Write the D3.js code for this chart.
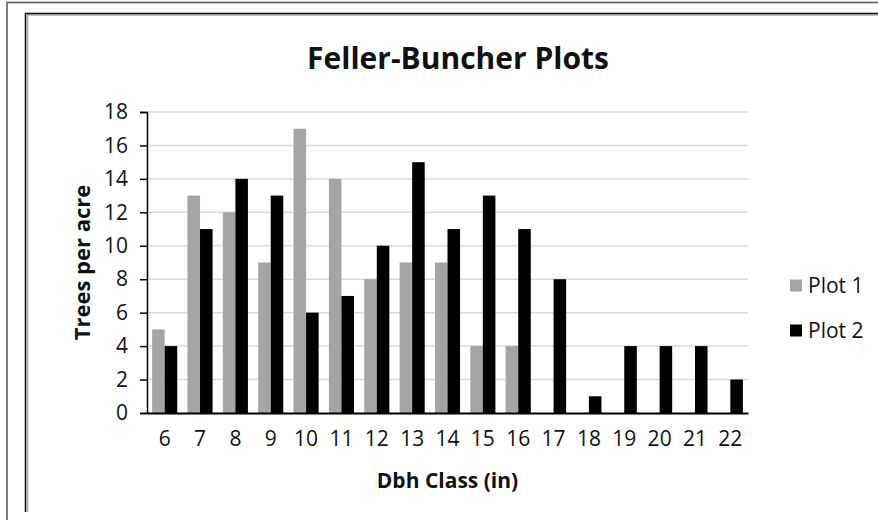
<!DOCTYPE html>
<html>
<head>
<meta charset="utf-8">
<script src="https://cdn.jsdelivr.net/npm/d3@7"></script>
<style>
  body { margin: 0; background: #fff; }
  svg text { font-family: "Open Sans", sans-serif; fill: #111; }
  .grid line { stroke: #d9d9d9; stroke-width: 1.5; }
</style>
</head>
<body>
<div id="chart"></div>
<script>
var categories = ["6", "7", "8", "9", "10", "11", "12", "13", "14", "15", "16", "17", "18", "19", "20", "21", "22"]
var series_names = ["Plot 1", "Plot 2"]
var plot1_values = [5, 13, 12, 9, 17, 14, 8, 9, 9, 4, 4, 0, 0, 0, 0, 0, 0]
var plot2_values = [4, 11, 14, 13, 6, 7, 10, 15, 11, 13, 11, 8, 1, 4, 4, 4, 2]
var y_ticks = [0, 2, 4, 6, 8, 10, 12, 14, 16, 18]
var series_colors = ["#a5a5a5", "#000000"]

var width = 878, height = 520
var plot = { "left": 147, "right": 748, "top": 112, "bottom": 413 }

var svg = d3.select("#chart").append("svg")
  .attr("width", width)
  .attr("height", height)

// frames (outer page border + chart border with a little shadow)
svg.append("path")
  .attr("d", "M7,520V2.5H878")
  .attr("fill", "none").attr("stroke", "#555").attr("stroke-width", 1.5)
svg.append("path")
  .attr("d", "M27.5,512V15H878")
  .attr("fill", "none").attr("stroke", "#aaa").attr("stroke-width", 1.5)
svg.append("path")
  .attr("d", "M25.5,512V13.5H878")
  .attr("fill", "none").attr("stroke", "#111").attr("stroke-width", 1.5)

var x0 = d3.scaleBand()
  .domain(categories)
  .range([plot.left, plot.right])
  .paddingInner(0.29)
  .paddingOuter(0.145)

var x1 = d3.scaleBand()
  .domain([0, 1])
  .range([0, x0.bandwidth()])

var y = d3.scaleLinear()
  .domain([0, 18])
  .range([plot.bottom, plot.top])

// gridlines
svg.append("g")
  .attr("class", "grid")
  .selectAll("line")
  .data(y_ticks.slice(1))
  .join("line")
    .attr("x1", plot.left)
    .attr("x2", plot.right)
    .attr("y1", function(d) { return y(d) })
    .attr("y2", function(d) { return y(d) })

// bars
var rows = categories.map(function(c, i) {
  return { "cat": c, "values": [plot1_values[i], plot2_values[i]] }
})

var groups = svg.append("g").selectAll("g")
  .data(rows)
  .join("g")
    .attr("transform", function(d) { return "translate(" + x0(d.cat) + ",0)" })

groups.selectAll("rect")
  .data(function(d) { return d.values.map(function(v, s) { return { "s": s, "v": v } }) })
  .join("rect")
    .attr("x", function(d) { return x1(d.s) })
    .attr("width", x1.bandwidth())
    .attr("y", function(d) { return y(d.v) })
    .attr("height", function(d) { return y(0) - y(d.v) })
    .attr("fill", function(d) { return series_colors[d.s] })

// y axis
var yAxis = svg.append("g")
  .attr("transform", "translate(" + plot.left + ",0)")
  .call(d3.axisLeft(y).tickValues(y_ticks).tickSize(7).tickPadding(12))
yAxis.select(".domain").attr("stroke", "#000").attr("stroke-width", 1.5)
yAxis.selectAll(".tick line").attr("stroke", "#000").attr("stroke-width", 1.5)
yAxis.selectAll(".tick text")
  .attr("font-size", 21)
  .attr("font-family", "Open Sans")
  .attr("fill", "#111")

// x axis
var xAxis = svg.append("g")
  .attr("transform", "translate(0," + plot.bottom + ")")
  .call(d3.axisBottom(x0).tickSize(0).tickPadding(18).tickSizeOuter(0))
xAxis.select(".domain").attr("stroke", "#000").attr("stroke-width", 2)
xAxis.selectAll(".tick text")
  .attr("font-size", 21)
  .attr("font-family", "Open Sans")
  .attr("fill", "#111")

// titles
svg.append("text")
  .attr("x", 458)
  .attr("y", 58)
  .attr("dy", "0.35em")
  .attr("text-anchor", "middle")
  .attr("font-size", 30)
  .attr("font-weight", "bold")
  .text("Feller-Buncher Plots")

svg.append("text")
  .attr("x", (plot.left + plot.right) / 2)
  .attr("y", 481)
  .attr("dy", "0.35em")
  .attr("text-anchor", "middle")
  .attr("font-size", 21)
  .attr("font-weight", "bold")
  .text("Dbh Class (in)")

svg.append("text")
  .attr("transform", "translate(82," + (plot.top + plot.bottom) / 2 + ") rotate(-90)")
  .attr("dy", "0.35em")
  .attr("text-anchor", "middle")
  .attr("font-size", 22)
  .attr("font-weight", "bold")
  .text("Trees per acre")

// legend
var legend = svg.append("g").selectAll("g")
  .data(series_names)
  .join("g")
    .attr("transform", function(d, i) { return "translate(790," + (285.5 + i * 45) + ")" })
legend.append("rect")
  .attr("x", 0).attr("y", -6)
  .attr("width", 12).attr("height", 12)
  .attr("fill", function(d, i) { return series_colors[i] })
legend.append("text")
  .attr("x", 18)
  .attr("dy", "0.35em")
  .attr("font-size", 21)
  .text(function(d) { return d })
</script>
</body>
</html>
